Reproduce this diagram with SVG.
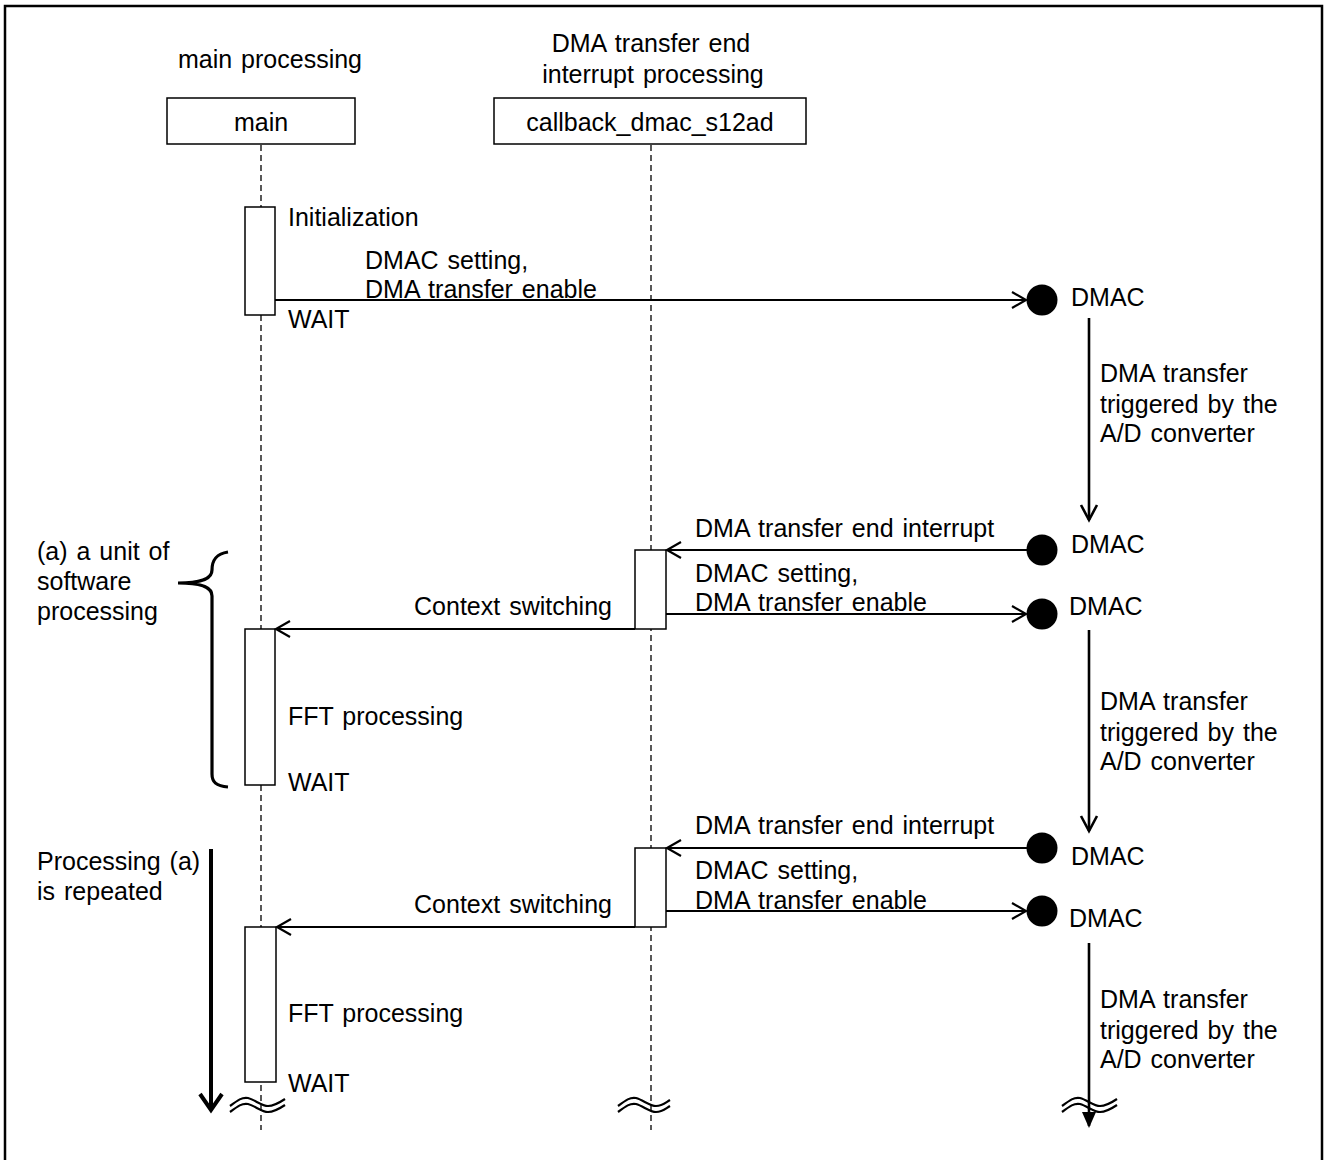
<svg xmlns="http://www.w3.org/2000/svg" width="1326" height="1160" viewBox="0 0 1326 1160">
<defs>
<style>
text{font-family:"Liberation Sans",Arial,sans-serif;font-size:25px;fill:#000;word-spacing:2px}
.mid{text-anchor:middle}
.end{text-anchor:end}
.box{fill:#fff;stroke:#000;stroke-width:1.5}
.life{stroke:#000;stroke-width:1.3;stroke-dasharray:6 4;fill:none}
.msg{stroke:#000;stroke-width:2.2;fill:none}
.vmsg{stroke:#000;stroke-width:2.6;fill:none}
.head{stroke:#000;stroke-width:2.2;fill:none}
.vhead{stroke:#000;stroke-width:2.6;fill:none}
.dot{fill:#000}
.wave{stroke:#000;stroke-width:2.2;fill:none}
</style>
</defs>
<rect x="5" y="6" width="1317" height="1200" fill="#fff" stroke="#000" stroke-width="2.5"/>

<g id="lifelines">
<line class="life" x1="261" y1="145" x2="261" y2="1130"/>
<line class="life" x1="651" y1="145" x2="651" y2="1130"/>
</g>

<g id="node-main">
<text class="mid" x="270" y="68">main processing</text>
<rect class="box" x="167" y="98" width="188" height="46"/>
<text class="mid" x="261" y="131">main</text>
</g>

<g id="node-callback">
<text class="mid" x="651" y="52">DMA transfer end</text>
<text class="mid" x="653" y="83">interrupt processing</text>
<rect class="box" x="494" y="98" width="312" height="46"/>
<text class="mid" x="650" y="131">callback_dmac_s12ad</text>
</g>

<g id="activations">
<rect class="box" x="245" y="207" width="30" height="108"/>
<rect class="box" x="635" y="550" width="31" height="79"/>
<rect class="box" x="245" y="629" width="30" height="156"/>
<rect class="box" x="635" y="848" width="31" height="79"/>
<rect class="box" x="245" y="927" width="31" height="155"/>
</g>

<g id="dmac-nodes">
<circle class="dot" cx="1042" cy="300" r="15.5"/>
<circle class="dot" cx="1042" cy="550" r="15.5"/>
<circle class="dot" cx="1042" cy="614" r="15.5"/>
<circle class="dot" cx="1042" cy="848" r="15.5"/>
<circle class="dot" cx="1042" cy="911" r="15.5"/>
<text x="1071" y="306">DMAC</text>
<text x="1071" y="553">DMAC</text>
<text x="1069" y="615">DMAC</text>
<text x="1071" y="865">DMAC</text>
<text x="1069" y="927">DMAC</text>
</g>

<g id="connectors">
<line class="msg" x1="275" y1="300" x2="1026" y2="300"/>
<polyline class="head" points="1012,292 1026,300 1012,308"/>

<line class="msg" x1="1042" y1="550" x2="667" y2="550"/>
<polyline class="head" points="681,542 667,550 681,558"/>
<line class="msg" x1="666" y1="614" x2="1026" y2="614"/>
<polyline class="head" points="1012,606 1026,614 1012,622"/>
<line class="msg" x1="635" y1="629" x2="276" y2="629"/>
<polyline class="head" points="290,621 276,629 290,637"/>

<line class="msg" x1="1042" y1="848" x2="667" y2="848"/>
<polyline class="head" points="681,840 667,848 681,856"/>
<line class="msg" x1="666" y1="911" x2="1026" y2="911"/>
<polyline class="head" points="1012,903 1026,911 1012,919"/>
<line class="msg" x1="635" y1="927" x2="277" y2="927"/>
<polyline class="head" points="291,919 277,927 291,935"/>

<line class="vmsg" x1="1089" y1="318" x2="1089" y2="520"/>
<polyline class="vhead" points="1081,505 1089,520 1097,505"/>
<line class="vmsg" x1="1089" y1="630" x2="1089" y2="831"/>
<polyline class="vhead" points="1081,816 1089,831 1097,816"/>
<line class="vmsg" x1="1089" y1="943" x2="1089" y2="1126"/>
<path d="M1082,1112 L1089,1128 L1096,1112 Z" fill="#000"/>

<line x1="211" y1="849" x2="211" y2="1108" stroke="#000" stroke-width="4"/>
<polyline points="200,1094 211,1110 222,1094" fill="none" stroke="#000" stroke-width="4"/>

<path d="M228,552 C216,554 212,560 212,570 C212,578 204,583 178,583 C204,583 212,588 212,596 L212,774 C212,782 216,786 228,787" fill="none" stroke="#000" stroke-width="3.2"/>
</g>

<g id="breaks">
<path class="wave" d="M230,1106 C238,1100 242,1097 248,1098 C255,1100 262,1106 268,1106 C274,1106 279,1103 285,1099"/>
<path class="wave" d="M230,1112 C238,1106 242,1103 248,1104 C255,1106 262,1112 268,1112 C274,1112 279,1109 285,1105"/>
<path class="wave" d="M618,1106 C626,1100 630,1097 636,1098 C643,1100 650,1106 656,1106 C662,1106 665,1103 670,1100"/>
<path class="wave" d="M618,1112 C626,1106 630,1103 636,1104 C643,1106 650,1112 656,1112 C662,1112 665,1109 670,1106"/>
<path class="wave" d="M1062,1106 C1070,1100 1074,1097 1080,1098 C1087,1100 1094,1106 1100,1106 C1106,1106 1111,1103 1117,1099"/>
<path class="wave" d="M1062,1112 C1070,1106 1074,1103 1080,1104 C1087,1106 1094,1112 1100,1112 C1106,1112 1111,1109 1117,1105"/>
</g>

<g id="labels">
<text x="288" y="226">Initialization</text>
<text x="365" y="269">DMAC setting,</text>
<text x="365" y="298">DMA transfer enable</text>
<text x="288" y="328">WAIT</text>

<text x="1100" y="382">DMA transfer</text>
<text x="1100" y="413">triggered by the</text>
<text x="1100" y="442">A/D converter</text>

<text x="695" y="537">DMA transfer end interrupt</text>
<text x="695" y="582">DMAC setting,</text>
<text x="695" y="611">DMA transfer enable</text>
<text class="end" x="612" y="615">Context switching</text>

<text x="37" y="560">(a) a unit of</text>
<text x="37" y="590">software</text>
<text x="37" y="620">processing</text>

<text x="288" y="725">FFT processing</text>
<text x="288" y="791">WAIT</text>

<text x="1100" y="710">DMA transfer</text>
<text x="1100" y="741">triggered by the</text>
<text x="1100" y="770">A/D converter</text>

<text x="695" y="834">DMA transfer end interrupt</text>
<text x="695" y="879">DMAC setting,</text>
<text x="695" y="909">DMA transfer enable</text>
<text class="end" x="612" y="913">Context switching</text>

<text x="37" y="870">Processing (a)</text>
<text x="37" y="900">is repeated</text>

<text x="288" y="1022">FFT processing</text>
<text x="288" y="1092">WAIT</text>

<text x="1100" y="1008">DMA transfer</text>
<text x="1100" y="1039">triggered by the</text>
<text x="1100" y="1068">A/D converter</text>
</g>
</svg>
